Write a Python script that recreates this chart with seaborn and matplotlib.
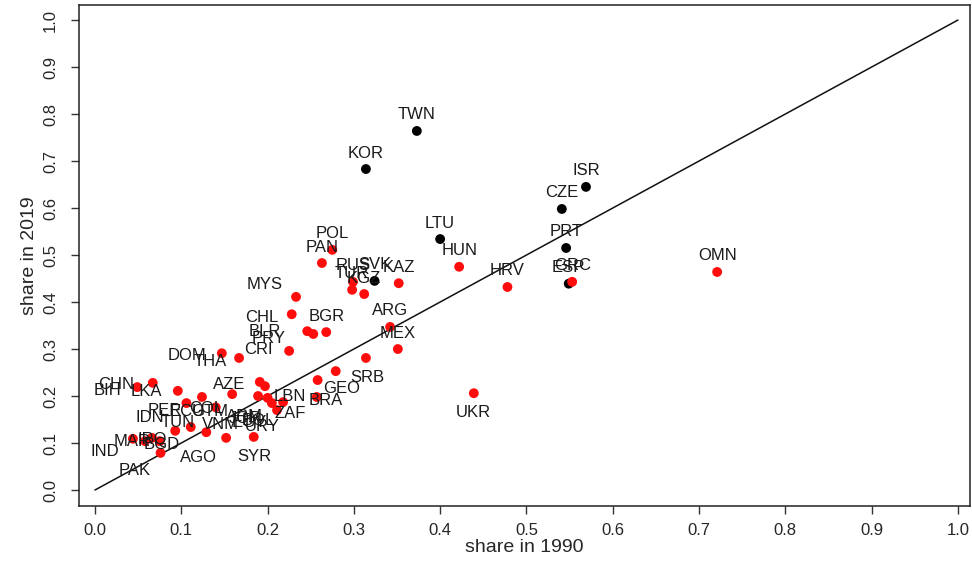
import matplotlib
matplotlib.use("Agg")
import matplotlib.pyplot as plt
import seaborn as sns
import numpy as np
import pandas as pd

# countries, shares
countries = [
    "TWN", "KOR", "ISR", "CZE", "LTU", "PRT", "SVK", "ESP",
    "HUN", "HRV", "OMN", "UKR", "GRC", "POL", "PAN", "RUS", "TUR", "KGZ",
    "KAZ", "MYS", "CHL", "BGR", "BLR", "PRY", "CRI", "DOM", "THA", "ARG",
    "MEX", "SRB", "GEO", "BRA", "LBN", "ZAF", "AZE", "ARM", "EGY", "BOL",
    "URY", "COL", "JOR", "GTM", "ECU", "PER", "CHN", "BIH", "LKA", "IDN",
    "TUN", "AGO", "VNM", "SYR", "IND", "PAK", "MAR", "IRQ", "BGD",
]
share_1990 = [
    0.373, 0.314, 0.569, 0.541, 0.400, 0.546, 0.324, 0.549,
    0.422, 0.478, 0.721, 0.439, 0.553, 0.275, 0.263, 0.299, 0.298, 0.312,
    0.352, 0.233, 0.228, 0.268, 0.246, 0.253, 0.225, 0.147, 0.167, 0.342,
    0.351, 0.314, 0.279, 0.258, 0.257, 0.218, 0.191, 0.197, 0.200, 0.205,
    0.211, 0.159, 0.189, 0.140, 0.124, 0.106, 0.049, 0.067, 0.096, 0.093,
    0.111, 0.129, 0.152, 0.184, 0.044, 0.076, 0.058, 0.066, 0.075,
]
share_2019 = [
    0.764, 0.683, 0.645, 0.598, 0.534, 0.515, 0.445, 0.439,
    0.475, 0.432, 0.464, 0.206, 0.443, 0.511, 0.483, 0.443, 0.426, 0.417,
    0.440, 0.411, 0.374, 0.336, 0.338, 0.332, 0.296, 0.291, 0.281, 0.347,
    0.300, 0.281, 0.253, 0.234, 0.198, 0.187, 0.230, 0.221, 0.196, 0.185,
    0.170, 0.204, 0.200, 0.176, 0.198, 0.185, 0.219, 0.228, 0.211, 0.126,
    0.134, 0.123, 0.111, 0.113, 0.109, 0.079, 0.104, 0.111, 0.104,
]
group = ["black"] * 8 + ["red"] * 49

# label placement (pixels from the point), default is just above
label_offsets = {
    "UKR": (0, -19), "SYR": (1, -20), "SRB": (1, -20), "GEO": (6, -17),
    "BRA": (8, -20), "LBN": (-27, 0), "ZAF": (7, -11), "MYS": (-31, 12),
    "CHL": (-30, -3), "BLR": (-42, 0), "PRY": (-45, -5), "CRI": (-31, 1),
    "DOM": (-35, -2), "THA": (-29, -4), "AZE": (-31, -3), "ARM": (-20, -30),
    "EGY": (-18, -25), "BOL": (-14, -17), "URY": (-15, -16), "COL": (-26, -14),
    "JOR": (-13, -22), "GTM": (-6, -4), "ECU": (-15, -15), "PER": (-22, -7),
    "CHN": (-21, 3), "BIH": (-45, -8), "LKA": (-31, -1), "IDN": (-25, 13),
    "TUN": (-13, 5), "AGO": (-8, -25), "VNM": (-6, 13), "IND": (-28, -13),
    "PAK": (-26, -18), "MAR": (-13, 0), "IRQ": (0, -2), "BGD": (2, -3),
}

df = pd.DataFrame({
    "country": countries,
    "share_1990": share_1990,
    "share_2019": share_2019,
    "group": group,
})

sns.set_style("ticks")
plt.rcParams["font.family"] = ["Liberation Sans", "DejaVu Sans"]

fig = plt.figure(figsize=(9.72, 5.68), dpi=100)
ax = fig.add_axes([79 / 972, 1 - 506 / 568, 891 / 972, 501 / 568])

ax.plot([0, 1], [0, 1], color="#111111", linewidth=1.1, zorder=1)
sns.scatterplot(
    data=df, x="share_1990", y="share_2019", hue="group",
    palette={"black": "black", "red": "#ff0d0d"},
    s=50, linewidth=0, legend=False, ax=ax, zorder=2,
)

for name, x, y in zip(countries, share_1990, share_2019):
    dx, dy = label_offsets.get(name, (0, 16))
    ax.annotate(name, (x, y), xytext=(dx, dy), textcoords="offset pixels",
                ha="center", va="center", fontsize=12, color="#1a1a1a",
                zorder=3)

ax.set_xlim(-0.0185, 1.014)
ax.set_ylim(-0.034, 1.032)
ticks = np.round(np.arange(0, 1.01, 0.1), 1)
ax.set_xticks(ticks)
ax.set_yticks(ticks)
ax.set_xticklabels([f"{t:.1f}" for t in ticks], fontsize=12)
ax.set_yticklabels([f"{t:.1f}" for t in ticks], fontsize=12, rotation=90,
                   va="center")
ax.tick_params(axis="x", length=6, width=1, pad=6, color="#333333")
ax.tick_params(axis="y", length=6, width=1, pad=9, color="#333333")
for spine in ax.spines.values():
    spine.set_visible(True)
    spine.set_linewidth(1.1)
    spine.set_color("#222222")
ax.set_xlabel("share in 1990", fontsize=14, labelpad=1)
ax.set_ylabel("share in 2019", fontsize=14, labelpad=4)

fig.savefig("out.png", dpi=100)
